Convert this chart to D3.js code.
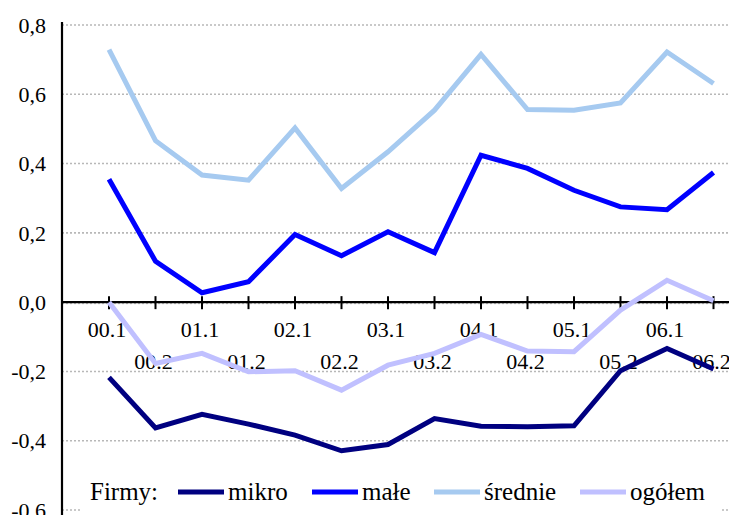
<!DOCTYPE html>
<html><head><meta charset="utf-8">
<script src="https://cdn.jsdelivr.net/npm/d3@7"></script>
<style>html,body{margin:0;padding:0;background:#fff;}svg{display:block;}</style>
</head><body>
<svg id="c" width="729" height="515"></svg>
<script>
const categories = ["00.1","00.2","01.1","01.2","02.1","02.2","03.1","03.2","04.1","04.2","05.1","05.2","06.1","06.2"];
const mikro   = [-0.217,-0.363,-0.324,-0.352,-0.384,-0.429,-0.411,-0.336,-0.358,-0.360,-0.357,-0.198,-0.134,-0.193];
const male    = [0.355,0.118,0.027,0.059,0.195,0.134,0.203,0.143,0.424,0.386,0.323,0.275,0.267,0.374];
const srednie = [0.729,0.466,0.367,0.352,0.503,0.328,0.434,0.554,0.715,0.556,0.554,0.575,0.722,0.631];
const ogolem  = [0.000,-0.177,-0.148,-0.201,-0.198,-0.254,-0.182,-0.148,-0.093,-0.141,-0.143,-0.023,0.063,0.004];
const seriesNames = ["mikro","małe","średnie","ogółem"];
const seriesColors = ["#000080","#0000ff","#a6caf0","#c0c0ff"];
const yTicks = [0.8,0.6,0.4,0.2,0.0,-0.2,-0.4,-0.6];
const legendTitle = "Firmy:";

const FONT = "Liberation Serif, Tinos, Times New Roman, Nimbus Roman, DejaVu Serif, serif";
const svg = d3.select("#c");
const axisX = 62, right = 729;
const y = d3.scaleLinear().domain([-0.6, 0.8]).range([510, 25]);
const x = d3.scalePoint().domain(categories).range([109, 713.5]);

svg.append("g").selectAll("line").data(yTicks.filter(v => v !== 0)).join("line")
  .attr("x1", axisX).attr("x2", right)
  .attr("y1", d => y(d)).attr("y2", d => y(d))
  .attr("stroke", "#b8b8b8").attr("stroke-width", 1.6).attr("stroke-dasharray", "2,2");
svg.append("line").attr("x1", axisX).attr("x2", right).attr("y1", y(0)+1.5).attr("y2", y(0)+1.5)
  .attr("stroke", "#b8b8b8").attr("stroke-width", 1).attr("stroke-dasharray", "2,2");

const fmt = v => d3.format(".1f")(v).replace(".", ",").replace("−","-");
svg.append("g").selectAll("text").data(yTicks).join("text")
  .attr("x", 46).attr("y", d => y(d)).attr("dy", "0.35em")
  .attr("text-anchor", "end").attr("font-family", FONT).attr("font-size", 22)
  .attr("fill", "#000").text(d => fmt(d));

svg.append("line").attr("x1", axisX).attr("x2", right).attr("y1", y(0)).attr("y2", y(0))
  .attr("stroke", "#000").attr("stroke-width", 2.2);
svg.append("g").selectAll("line").data(categories).join("line")
  .attr("x1", d => x(d)).attr("x2", d => x(d))
  .attr("y1", y(0) - 6).attr("y2", y(0) + 7)
  .attr("stroke", "#000").attr("stroke-width", 2);
svg.append("g").selectAll("text").data(categories).join("text")
  .attr("x", d => x(d) - 2)
  .attr("y", (d, i) => i % 2 === 0 ? 337 : 369)
  .attr("text-anchor", "middle").attr("font-family", FONT).attr("font-size", 22)
  .attr("fill", "#000").text(d => d);

svg.append("line").attr("x1", axisX).attr("x2", axisX).attr("y1", 22).attr("y2", 515)
  .attr("stroke", "#000").attr("stroke-width", 2.2);

const data = [mikro, male, srednie, ogolem];
const line = d3.line().x((d, i) => x(categories[i])).y(d => y(d));
[2, 3, 1, 0].forEach(k => {
  svg.append("path").datum(data[k]).attr("d", line)
    .attr("fill", "none").attr("stroke", seriesColors[k]).attr("stroke-width", 5)
    .attr("stroke-linejoin", "miter");
});

const lg = svg.append("g");
lg.append("rect").attr("x", 80).attr("y", 472).attr("width", 640).attr("height", 43).attr("fill", "#fff");
lg.append("text").attr("x", 90).attr("y", 500).attr("font-family", FONT).attr("font-size", 25)
  .attr("fill", "#000").text(legendTitle);
const lineX = [178, 312, 434, 580];
seriesNames.forEach((n, i) => {
  lg.append("line").attr("x1", lineX[i]).attr("x2", lineX[i] + 46).attr("y1", 492).attr("y2", 492)
    .attr("stroke", seriesColors[i]).attr("stroke-width", 5);
  lg.append("text").attr("x", lineX[i] + 50).attr("y", 500).attr("font-family", FONT).attr("font-size", 25)
    .attr("fill", "#000").text(n);
});
</script>
</body></html>
